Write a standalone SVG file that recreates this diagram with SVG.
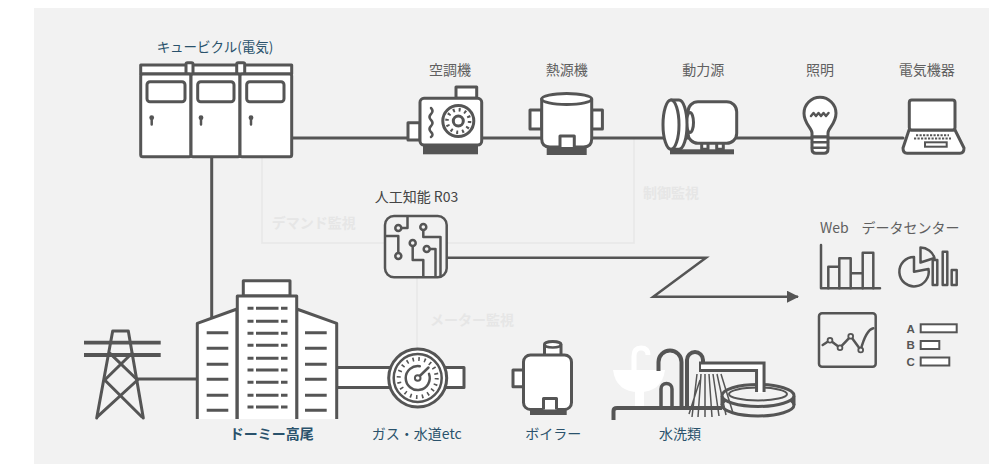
<svg xmlns="http://www.w3.org/2000/svg" width="989" height="464" viewBox="0 0 989 464">
<defs>
  <style>
    .ln{fill:none;stroke:#555;stroke-width:3;stroke-linecap:round;stroke-linejoin:round}
    .thin{fill:none;stroke:#555;stroke-width:2.5;stroke-linecap:round;stroke-linejoin:round}
    .wf{fill:#fff;stroke:#555;stroke-width:3;stroke-linejoin:round}
    .bf{fill:#f2f2f2;stroke:#555;stroke-width:2.5;stroke-linejoin:round}
    .dk{fill:#555}
    .win{fill:none;stroke:#555;stroke-width:3}
    .lbl{font-family:"Noto Sans CJK JP","Noto Sans",sans-serif;font-size:14px;fill:#606060;text-anchor:middle}
    .blue{fill:#2a526c}
    .faint{font-family:"Noto Sans CJK JP","Noto Sans",sans-serif;font-size:14px;font-weight:700;fill:#e6e6e6}
    .fl{fill:none;stroke:#e7e7e7;stroke-width:1.5}
  </style>
  <marker id="arrow" viewBox="0 0 12 12" refX="11" refY="6" markerWidth="12" markerHeight="12" markerUnits="userSpaceOnUse" orient="auto">
    <path d="M0,0 L12,6 L0,12 Z" fill="#555"/>
  </marker>
</defs>

<!-- panel -->
<rect x="34" y="8" width="955" height="456" fill="#f2f2f2"/>

<!-- monitoring zones (faint) -->
<g id="zones">
  <rect class="fl" x="262" y="138" width="372" height="105"/>
  <path class="fl" d="M417,277 V349"/>
  <text class="faint" x="271.7" y="228">デマンド監視</text>
  <text class="faint" x="643" y="198">制御監視</text>
  <text class="faint" x="430" y="325">メーター監視</text>
</g>

<!-- connectors -->
<g id="connectors">
  <path class="ln" d="M291.7,138 H903"/>
  <path class="ln" d="M211.7,157 V318"/>
  <path class="ln" d="M137,379 H197"/>
  <path d="M447,257.7 H706 L653.3,296.7 H798" fill="none" stroke="#555" stroke-width="2.5" stroke-linejoin="miter" marker-end="url(#arrow)"/>
  <rect class="wf" x="336.7" y="367.5" width="127.3" height="20"/>
</g>

<!-- cubicle -->
<g id="cubicle">
  <text class="lbl blue" x="215" y="51.5" style="font-size:13.5px">キュービクル(電気)</text>
  <rect class="wf" x="140.7" y="65" width="151" height="9"/>
  <rect class="wf" x="186" y="62.7" width="7" height="11.3" rx="1.5" stroke-width="2.5"/>
  <rect class="wf" x="236.7" y="62.7" width="8" height="11.3" rx="1.5" stroke-width="2.5"/>
  <rect class="wf" x="140.7" y="74" width="50.3" height="82.7" rx="2"/>
  <rect class="wf" x="191" y="74" width="49" height="82.7" rx="2"/>
  <rect class="wf" x="240" y="74" width="51.7" height="82.7" rx="2"/>
  <rect class="wf" x="147" y="81.7" width="38" height="20" rx="3"/>
  <rect class="wf" x="197.7" y="81.7" width="36.3" height="20" rx="3"/>
  <rect class="wf" x="246.7" y="81.7" width="37.3" height="20" rx="3"/>
  <circle class="dk" cx="151.7" cy="117.7" r="2.4"/>
  <circle class="dk" cx="201" cy="117.7" r="2.4"/>
  <circle class="dk" cx="251" cy="117.7" r="2.4"/>
  <path class="thin" d="M151.7,118 V124.5 M201,118 V124.5 M251,118 V124.5"/>
</g>

<!-- air conditioner -->
<g id="aircon">
  <text class="lbl" x="450" y="74.5">空調機</text>
  <rect class="dk" x="423" y="146" width="55" height="8.3"/>
  <rect class="wf" x="456" y="87" width="20.7" height="11.3"/>
  <rect class="wf" x="408" y="122.7" width="12" height="17.3"/>
  <rect class="wf" x="420" y="98.3" width="61.7" height="46.7" rx="4"/>
  <path class="thin" d="M431,108 q3,3 0,6 q-3,3 0,6 q3,3 0,6 q-3,3 0,6 q3,3 0,5"/>
  <circle class="wf" cx="458.3" cy="121" r="15.5"/>
  <circle cx="458.3" cy="121" r="11.3" fill="none" stroke="#555" stroke-width="3.5" stroke-dasharray="2 3.92"/>
  <circle class="wf" cx="458.3" cy="121" r="5"/>
</g>

<!-- heat source -->
<g id="heatsource">
  <text class="lbl" x="566.7" y="74.5">熱源機</text>
  <rect class="dk" x="546.7" y="147" width="40" height="8"/>
  <rect class="wf" x="530" y="110" width="11.7" height="19"/>
  <rect class="wf" x="591.7" y="110" width="10.7" height="19"/>
  <path class="wf" d="M541.7,99 V139 Q541.7,147 550,147 H583.4 Q591.7,147 591.7,139 V99 Z"/>
  <ellipse class="wf" cx="566.7" cy="99" rx="25" ry="5.5"/>
  <path class="wf" d="M560,147 V136 H574.3 V147"/>
</g>

<!-- motor -->
<g id="motor">
  <text class="lbl" x="703.3" y="74.5">動力源</text>
  <rect class="dk" x="670" y="149.3" width="64" height="5"/>
  <rect class="wf" x="701.7" y="142" width="6.3" height="7.3" stroke-width="2.5"/>
  <rect class="wf" x="716.7" y="142" width="6.6" height="7.3" stroke-width="2.5"/>
  <rect class="wf" x="688" y="101.7" width="48.7" height="41.6" rx="10"/>
  <ellipse class="wf" cx="690" cy="122.5" rx="3.5" ry="10"/>
  <path class="wf" d="M671,100 H679 A8,24.6 0 0 1 679,149.3 H671 Z"/>
  <ellipse class="wf" cx="671" cy="124.65" rx="8" ry="24.65"/>
</g>

<!-- lighting -->
<g id="lighting">
  <text class="lbl" x="820" y="74.5">照明</text>
  <path class="wf" d="M812,137 V133 C812,128 804,124 804,113.3 A16,16 0 1 1 836,113.3 C836,124 828,128 828,133 V137 Z"/>
  <path class="wf" d="M812,137 H828 V149 Q828,153.3 824,153.3 H816 Q812,153.3 812,149 Z"/>
  <path class="thin" d="M812,142.3 H828 M812,147.7 H828" stroke-width="2"/>
  <path class="thin" d="M811,116 l2.5,-3 l2.5,3 l2.5,-3 l2.5,3 l2.5,-3 l2.5,3 l2.5,-3" stroke-width="2"/>
</g>

<!-- electrical equipment -->
<g id="devices">
  <text class="lbl" x="926.7" y="74.5">電気機器</text>
  <path class="wf" d="M909,130 L903,148 Q903,153.3 907,153.3 H960 Q964,153.3 964,148 L955,130 Z"/>
  <rect class="wf" x="909.3" y="100" width="45.7" height="30" rx="2.5"/>
  <path d="M916,135.3 H949 M914,138.6 H951" fill="none" stroke="#555" stroke-width="2" stroke-dasharray="2.2 1.3"/>
  <rect x="925" y="142.3" width="21.7" height="4.4" fill="#fff" stroke="#555" stroke-width="2"/>
</g>

<!-- AI -->
<g id="ai">
  <text class="lbl" x="416.5" y="202" style="fill:#444">人工知能 R03</text>
  <rect class="bf" x="385" y="216" width="61.7" height="61.3" rx="9" stroke-width="3"/>
  <path class="thin" d="M401,228 H407.5 V217 M423.3,230 V237 H440.5 V276 M412.7,246 V260 H423.3 V276 M429.7,249 H435.5 V276 M398.3,253 V236 H386.5"/>
  <circle class="bf" cx="398.3" cy="228" r="3"/>
  <circle class="bf" cx="423.3" cy="227" r="3"/>
  <circle class="bf" cx="412.7" cy="243" r="3"/>
  <circle class="bf" cx="426.7" cy="249" r="3"/>
  <circle class="bf" cx="398.3" cy="256" r="3"/>
</g>

<!-- data center -->
<g id="datacenter">
  <text class="lbl" x="820" y="233" style="text-anchor:start">Web</text>
  <text class="lbl" x="861.5" y="233" style="text-anchor:start">データセンター</text>
  <path class="thin" d="M821,245 V288.3 H880" stroke-linecap="butt"/>
  <path class="thin" d="M828.3,288.3 V266.7 H839.3 V288.3 M839.3,266.7 V258.3 H850.7 V288.3 M850.7,273.3 H862.7 V288.3 M862.7,273.3 V252.7 H873.3 V288.3" stroke-linecap="butt"/>
  <path class="thin" d="M914,271.7 L914,257 A14.7,14.7 0 1 0 928.5,269 Z"/>
  <path class="thin" d="M920.5,262.5 L920.5,247.5 A14.7,14.7 0 0 1 934.5,258 Z"/>
  <rect class="thin" x="932.7" y="260" width="4.6" height="25"/>
  <rect class="thin" x="942.7" y="251.7" width="4.6" height="33.3"/>
  <rect class="thin" x="951.7" y="270" width="5" height="15"/>
  <rect class="thin" x="819" y="313.3" width="56.7" height="53.4" rx="3" stroke-width="3"/>
  <path class="thin" d="M822.7,345 L830,340.3 L840,347.7 L850.7,336.3 L860.7,350 Q866,330 873.3,328.3" stroke-width="2"/>
  <circle cx="830" cy="340.3" r="2.4" fill="#f2f2f2" stroke="#555" stroke-width="1.8"/>
  <circle cx="840" cy="347.7" r="2.4" fill="#f2f2f2" stroke="#555" stroke-width="1.8"/>
  <circle cx="850.7" cy="336.3" r="2.4" fill="#f2f2f2" stroke="#555" stroke-width="1.8"/>
  <circle cx="860.7" cy="350" r="2.4" fill="#f2f2f2" stroke="#555" stroke-width="1.8"/>
  <g font-family="'Liberation Sans',Arial,sans-serif" font-size="11.5" font-weight="700" fill="#555">
    <text x="906.5" y="332.5">A</text>
    <text x="906.5" y="349">B</text>
    <text x="906.5" y="365.5">C</text>
  </g>
  <rect x="920.7" y="324.3" width="36" height="8" fill="#fff" stroke="#555" stroke-width="2"/>
  <rect x="920.7" y="341" width="18.6" height="8" fill="#fff" stroke="#555" stroke-width="2"/>
  <rect x="920.7" y="357.5" width="28.6" height="8" fill="#fff" stroke="#555" stroke-width="2"/>
</g>

<!-- transmission tower -->
<g id="tower" fill="none" stroke="#555" stroke-width="3" stroke-linecap="round" stroke-linejoin="round">
  <path d="M84,342.7 H160.7 M84,355 H160.7" stroke-width="3.8" stroke-linecap="butt"/>
  <path d="M96.7,418 L112.7,331 H128.3 L143.3,418"/>
  <path d="M110,353.3 L137.5,380 M132,353.3 L104.7,380 M104.7,380 L141.7,416.7 M137.5,380 L97.5,416.7"/>
</g>

<!-- building -->
<g id="building">
  <path class="wf" d="M197.3,419 V323.3 L237,309 V419"/>
  <path class="wf" d="M296.7,419 V309 L336.7,323.3 V419"/>
  <rect class="wf" x="243.3" y="280.7" width="46.7" height="15.3"/>
  <path class="wf" d="M237.3,419 V296 H296.7 V419"/>
  <path class="win" d="M206.7,332.7 H228.3 M206.7,348.3 H228.3 M206.7,364.3 H228.3 M206.7,379.3 H228.3 M206.7,395.3 H228.3 M206.7,410.3 H228.3"/>
  <path class="win" d="M305,332.7 H326.7 M305,348.3 H326.7 M305,364.3 H326.7 M305,379.3 H326.7 M305,395.3 H326.7 M305,410.3 H326.7"/>
  <path class="win" d="M247.5,308.3 H253.5 M256,308.3 H278.5 M281,308.3 H287.5
    M247.5,321.3 H253.5 M256,321.3 H278.5 M281,321.3 H287.5
    M247.5,333.3 H253.5 M256,333.3 H278.5 M281,333.3 H287.5
    M247.5,345.3 H253.5 M256,345.3 H278.5 M281,345.3 H287.5
    M247.5,358.3 H253.5 M256,358.3 H278.5 M281,358.3 H287.5
    M247.5,370 H253.5 M256,370 H278.5 M281,370 H287.5
    M247.5,382.3 H253.5 M256,382.3 H278.5 M281,382.3 H287.5
    M247.5,395.3 H253.5 M256,395.3 H278.5 M281,395.3 H287.5
    M247.5,407 H253.5 M256,407 H278.5 M281,407 H287.5"/>
  <text class="lbl blue" x="271.7" y="439" font-weight="700">ドーミー高尾</text>
</g>

<!-- gas / water meter -->
<g id="meter">
  <circle class="wf" cx="417.7" cy="378" r="29"/>
  <circle cx="417.7" cy="378" r="24" fill="none" stroke="#555" stroke-width="2.5"/>
  <circle cx="417.7" cy="378" r="19" fill="none" stroke="#555" stroke-width="4" stroke-dasharray="1.6 4.37"/>
  <path class="thin" d="M429,373.9 A12,12 0 1 1 419.8,366.2"/>
  <path class="thin" d="M417.7,378 L428.5,367.5"/>
  <circle cx="417.7" cy="378" r="2.8" fill="#fff" stroke="#555" stroke-width="2"/>
  <text class="lbl blue" x="416.7" y="439">ガス・水道etc</text>
</g>

<!-- boiler -->
<g id="boiler">
  <rect class="dk" x="530" y="409" width="36.7" height="6"/>
  <rect class="wf" x="513" y="370" width="10.5" height="16.7"/>
  <path class="wf" d="M544.5,356 V344.5 A8.25,3 0 0 1 561,344.5 V356"/>
  <path class="thin" d="M544.5,344.5 A8.25,3 0 0 0 561,344.5"/>
  <rect class="wf" x="523.5" y="355" width="48" height="54.5" rx="7"/>
  <path class="wf" d="M543.5,409.5 V398.5 H556.5 V409.5"/>
  <text class="lbl blue" x="553.3" y="439">ボイラー</text>
</g>

<!-- water fixtures -->
<g id="water">
  <g fill="#fff">
    <path d="M634,372 V356 Q634,348 641,348 Q648,348 648,355" fill="none" stroke="#fff" stroke-width="5"/>
    <path d="M613,370 H665 Q662,392 639,392 Q616,392 613,370 Z"/>
    <rect x="635" y="390" width="9" height="19"/>
  </g>
  <ellipse cx="758" cy="405" rx="36" ry="11" fill="none" stroke="#555" stroke-width="3"/>
  <path d="M722,396 V405 M794,396 V405" fill="none" stroke="#555" stroke-width="3"/>
  <ellipse cx="758" cy="395.5" rx="36" ry="11" fill="#f2f2f2" stroke="#555" stroke-width="3"/>
  <ellipse cx="758" cy="394" rx="29" ry="6.5" fill="none" stroke="#555" stroke-width="2"/>
  <path d="M613.5,420 V411 Q613.5,408 617,408 H722" fill="none" stroke="#555" stroke-width="4"/>
  <path d="M658.5,371 V362 A11.5,11.5 0 0 1 681.5,362 V408" fill="none" stroke="#555" stroke-width="4"/>
  <path d="M661,408 V389 A5.5,5.5 0 0 1 672,389 V408" fill="none" stroke="#555" stroke-width="3.5"/>
  <path d="M687,408 V360 A8,8 0 0 1 703,360 V366" fill="none" stroke="#555" stroke-width="4"/>
  <path d="M699,366.7 H760.3 V392" fill="none" stroke="#555" stroke-width="10.5" stroke-linejoin="miter"/>
  <path d="M701,366.7 H760.3 V393" fill="none" stroke="#fff" stroke-width="4.5" stroke-linejoin="miter"/>
  <path d="M697,374 L692,417 M701,374 L698,417 M705,374 L705,417 M709,374 L712,417 M713,374 L719,416 M717,374 L726,415 M721,374 L733,413 M700,380 L689,414" fill="none" stroke="#555" stroke-width="1.5"/>
  <text class="lbl blue" x="680" y="439">水洗類</text>
</g>
</svg>
